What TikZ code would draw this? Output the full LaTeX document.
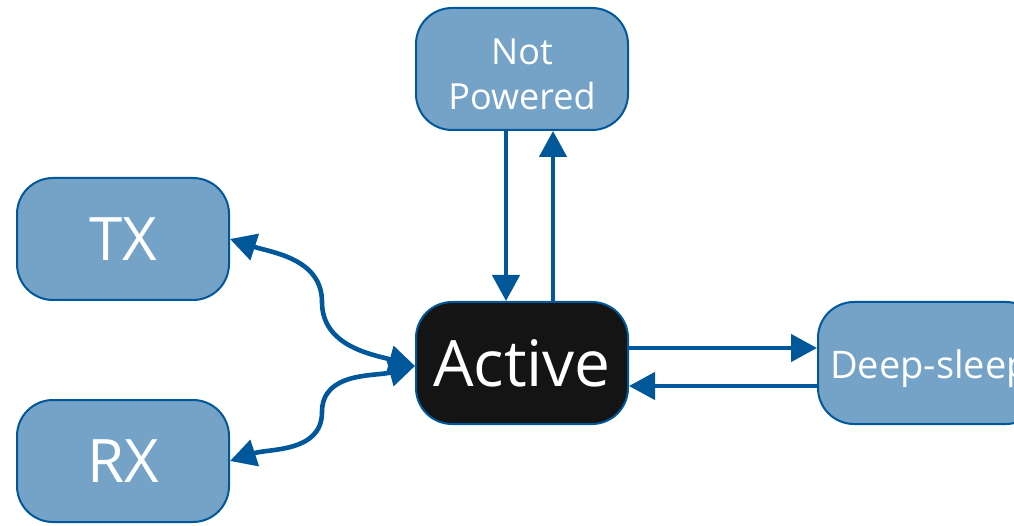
\documentclass[tikz,border=0pt]{standalone}
\usepackage{fontspec}
\setmainfont{Open Sans}
\usetikzlibrary{arrows.meta}
\definecolor{stateblue}{HTML}{74A3C7}
\definecolor{linkblue}{HTML}{00579A}
\definecolor{nearblack}{HTML}{141414}
\tikzset{
  state/.style={draw=linkblue, line width=2pt, fill=stateblue, rounded corners=36pt,
    minimum width=212pt, minimum height=122pt, text=white, align=center, inner sep=0pt},
  activestate/.style={state, fill=nearblack},
  caption/.style={text=white, align=center, inner sep=0pt},
  tip/.tip={Triangle[length=26pt,width=27pt]},
  link/.style={draw=linkblue, line width=4.6pt, -tip},
  dlink/.style={draw=linkblue, line width=4.6pt, tip-tip}
}
\begin{document}
\begin{tikzpicture}[x=1pt,y=-1pt]
\useasboundingbox (0,0) rectangle (1014,526);
\node[state, label={[caption, font=\fontsize{36}{45}\selectfont, yshift=-5pt]center:{Not\\Powered}}] (np) at (522,69) {};
\node[state, font=\fontsize{60}{64}\selectfont] (tx) at (123,239) {TX};
\node[state, font=\fontsize{60}{64}\selectfont] (rx) at (123,461) {RX};
\node[activestate, font=\fontsize{64}{68}\selectfont] (act) at (522,363) {Active};
\node[state, minimum width=224pt, font=\fontsize{38}{42}\selectfont, text height=31pt, text depth=0pt] (ds) at (930,363) {Deep-sleep};
% transitions to and from the power states
\draw[link] ([xshift=-16pt]np.south) -- ([xshift=-16pt]act.north);
\draw[link] ([xshift=31pt]act.north) -- ([xshift=31pt]np.south);
\draw[link] ([yshift=15pt]act.east) -- ([yshift=15pt]ds.west);
\draw[link] ([yshift=-23pt]ds.west) -- ([yshift=-23pt]act.east);
% radio states
\coordinate (hub) at ([yshift=-3pt]act.west);
\coordinate (upmid) at (322,302);
\coordinate (lowmid) at (322,412);
\draw[dlink] (tx.east) to[out=-18,in=90] (upmid) to[out=-90,in=165] (hub);
\draw[dlink] (rx.east) to[out=18,in=-90] (lowmid) to[out=90,in=-165] (hub);
\end{tikzpicture}
\end{document}
